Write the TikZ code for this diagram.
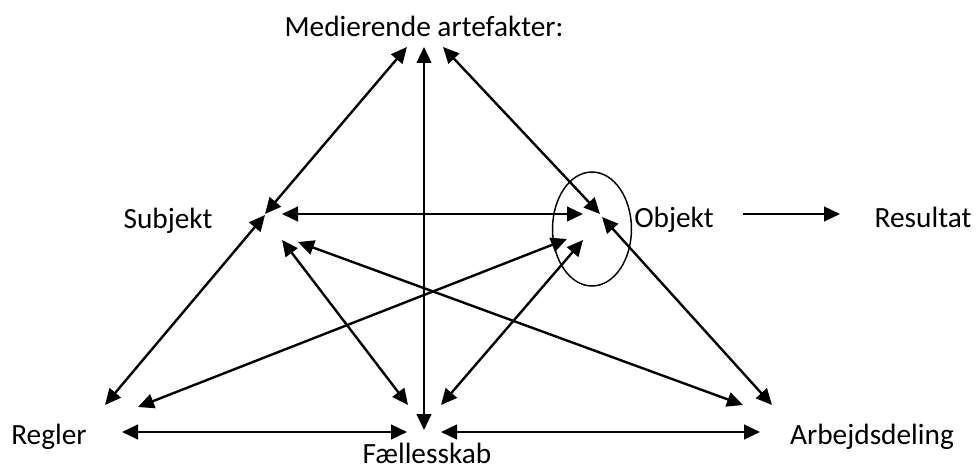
\documentclass[tikz,border=0pt]{standalone}
\usepackage{fontspec}
\setmainfont{Carlito}
\usepackage{tikz}
\usetikzlibrary{arrows.meta, calc}

\begin{document}
\begin{tikzpicture}[
  x=0.75pt, y=-0.75pt,
  lbl/.style={anchor=base, inner sep=0pt, font=\fontsize{22}{26}\selectfont},
  dobbelt/.style={line width=1.8pt, {Triangle[length=12pt, width=11pt]}-{Triangle[length=12pt, width=11pt]}},
  enkelt/.style={line width=1.8pt, -{Triangle[length=12pt, width=11pt]}}
]
  \useasboundingbox (0,0) rectangle (978,470);

  \node[lbl] (medierende) at (424,37) {Medierende artefakter:};
  \node[lbl] (subjekt) at (168,229) {Subjekt};
  \node[lbl] (objekt) at (674,228) {Objekt};
  \node[lbl] (resultat) at (923,228) {Resultat};
  \node[lbl] (regler) at (49,444) {Regler};
  \node[lbl] (faellesskab) at (427,463) {Fællesskab};
  \node[lbl] (arbejdsdeling) at (872,444) {Arbejdsdeling};

  \coordinate (med) at (424,47);
  \coordinate (subj) at (265,214);
  \coordinate (obj) at (600,214);
  \coordinate (regl) at (105,405);
  \coordinate (fael) at (424,430);
  \coordinate (arb) at (772,405);

  \draw[line width=1.1pt] (592,229) ellipse [x radius=29.6pt, y radius=42.75pt];

  \draw[dobbelt] ($(med)+(-17,0)$) -- (subj);
  \draw[dobbelt] (med) -- (fael);
  \draw[dobbelt] ($(med)+(19,0)$) -- (obj);
  \draw[dobbelt] ($(subj)+(17,0)$) -- ($(obj)+(-17,0)$);
  \draw[dobbelt] (regl) -- ($(subj)+(0,1)$);
  \draw[dobbelt] ($(subj)+(17,26)$) -- ($(fael)+(-16,-25)$);
  \draw[dobbelt] ($(subj)+(33,28)$) -- ($(arb)+(-29,0)$);
  \draw[dobbelt] ($(regl)+(33,2)$) -- ($(obj)+(-33,25)$);
  \draw[dobbelt] ($(fael)+(17,-25)$) -- ($(obj)+(-17,26)$);
  \draw[dobbelt] ($(obj)+(2,3)$) -- (arb);
  \draw[dobbelt] ($(regl)+(17,27)$) -- ($(fael)+(-17,2)$);
  \draw[dobbelt] ($(fael)+(17,2)$) -- ($(arb)+(-12,27)$);
  \draw[enkelt] ($(obj)+(143,0)$) -- ($(obj)+(240,0)$);
\end{tikzpicture}
\end{document}
